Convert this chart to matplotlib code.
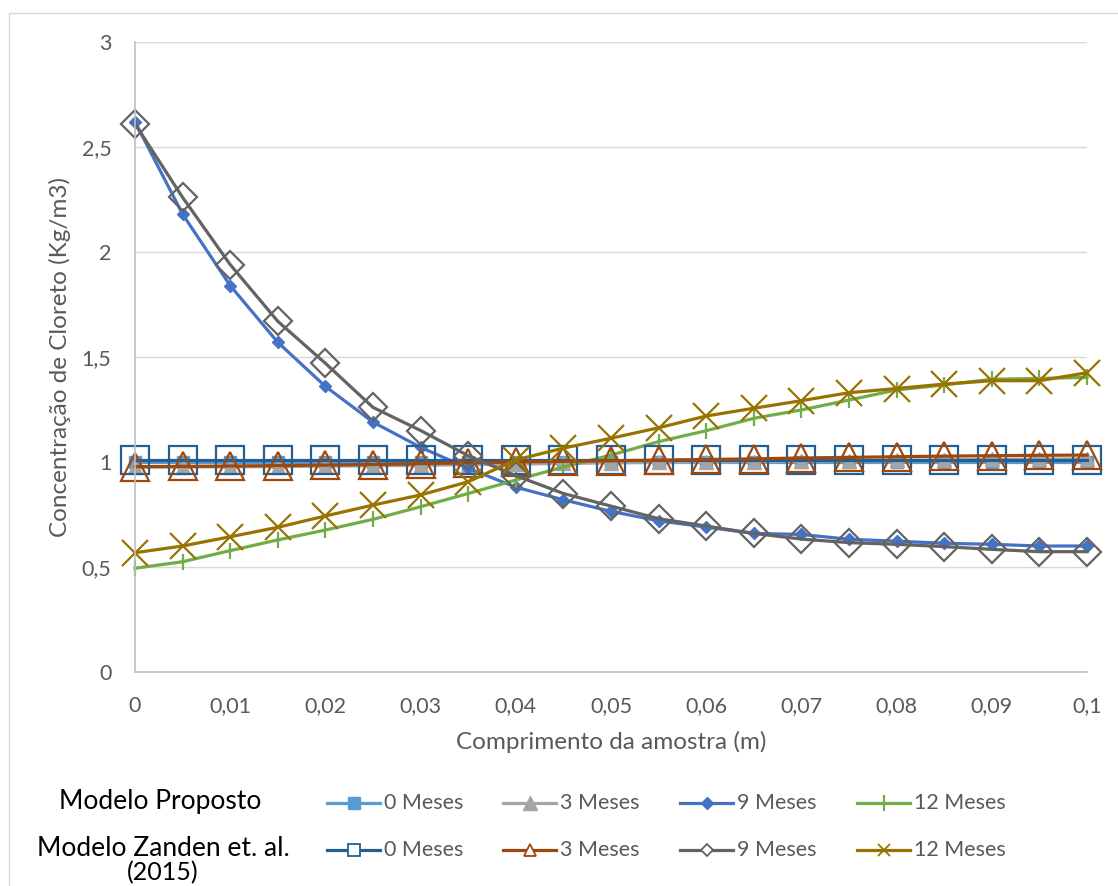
import matplotlib
matplotlib.use("Agg")
import matplotlib.pyplot as plt
from matplotlib.lines import Line2D
from matplotlib.patches import Rectangle

plt.rcParams['font.family'] = ['Lato', 'DejaVu Sans']

# comprimento da amostra (m)
x = [0, 0.005, 0.01, 0.015, 0.02, 0.025, 0.03, 0.035, 0.04, 0.045, 0.05,
     0.055, 0.06, 0.065, 0.07, 0.075, 0.08, 0.085, 0.09, 0.095, 0.1]

# Modelo Proposto
prop_0 = [1.0, 1.0, 1.0, 1.0, 1.0, 1.0, 1.0, 1.0, 1.0, 1.0, 1.0,
          1.0, 1.0, 1.0, 1.0, 1.0, 1.0, 1.0, 1.0, 1.0, 1.0]
prop_3 = [0.975, 0.976, 0.977, 0.978, 0.98, 0.982, 0.984, 0.987, 0.99, 0.993, 0.996,
          0.998, 1.0, 1.002, 1.004, 1.006, 1.008, 1.01, 1.012, 1.014, 1.015]
prop_9 = [2.62, 2.18, 1.84, 1.57, 1.36, 1.19, 1.07, 0.97, 0.88, 0.82, 0.765,
          0.72, 0.69, 0.66, 0.655, 0.632, 0.623, 0.613, 0.608, 0.60, 0.60]
prop_12 = [0.494, 0.525, 0.578, 0.629, 0.676, 0.727, 0.787, 0.85, 0.914, 0.976, 1.033,
           1.097, 1.149, 1.208, 1.248, 1.295, 1.343, 1.367, 1.394, 1.398, 1.403]

# Modelo Zanden et. al. (2015)
zan_0 = [1.01, 1.01, 1.01, 1.01, 1.01, 1.01, 1.01, 1.01, 1.01, 1.01, 1.01,
         1.01, 1.01, 1.01, 1.01, 1.01, 1.01, 1.01, 1.01, 1.01, 1.01]
zan_3 = [0.978, 0.979, 0.981, 0.983, 0.985, 0.988, 0.992, 0.996, 1.0, 1.003, 1.006,
         1.009, 1.012, 1.015, 1.019, 1.022, 1.025, 1.028, 1.03, 1.032, 1.033]
zan_9 = [2.61, 2.26, 1.94, 1.67, 1.47, 1.26, 1.15, 1.03, 0.935, 0.85, 0.79,
         0.73, 0.695, 0.66, 0.633, 0.616, 0.608, 0.597, 0.584, 0.573, 0.573]
zan_12 = [0.568, 0.60, 0.644, 0.689, 0.743, 0.795, 0.843, 0.906, 1.01, 1.066, 1.113,
          1.163, 1.219, 1.256, 1.292, 1.33, 1.35, 1.371, 1.387, 1.387, 1.425]

labels = ['0 Meses', '3 Meses', '9 Meses', '12 Meses']
xticks = [0, 0.01, 0.02, 0.03, 0.04, 0.05, 0.06, 0.07, 0.08, 0.09, 0.1]
xtick_labels = ['0', '0,01', '0,02', '0,03', '0,04', '0,05', '0,06', '0,07', '0,08', '0,09', '0,1']
yticks = [0, 0.5, 1, 1.5, 2, 2.5, 3]
ytick_labels = ['0', '0,5', '1', '1,5', '2', '2,5', '3']

W, H = 1118, 886
fig = plt.figure(figsize=(W / 100, H / 100), dpi=100)
ax = fig.add_axes([135 / W, 1 - 672 / H, (1087 - 135) / W, (672 - 42) / H])

lw = 2.3
prop_styles = [
    dict(color='#5B9BD5', marker='s', ms=8.5, mec='#5B9BD5'),
    dict(color='#A5A5A5', marker='^', ms=9.5, mec='#A5A5A5'),
    dict(color='#4472C4', marker='D', ms=6.5, mec='#4472C4'),
    dict(color='#70AD47', marker='|', ms=11, mew=1.6),
]
zan_styles = [
    dict(color='#255E91', marker='s', ms=20, mfc='none', mew=1.6),
    dict(color='#9E480E', marker='^', ms=20, mfc='none', mew=1.6),
    dict(color='#636363', marker='D', ms=14, mfc='none', mew=1.6),
    dict(color='#997300', marker='x', ms=19, mew=1.6),
]

for ys, st in zip([prop_0, prop_3, prop_9, prop_12], prop_styles):
    ax.plot(x, ys, lw=lw, clip_on=False, **st)
for ys, st in zip([zan_0, zan_3, zan_9, zan_12], zan_styles):
    ax.plot(x, ys, lw=lw, clip_on=False, **st)

ax.set_xlim(0, 0.1)
ax.set_ylim(0, 3)
ax.set_xticks(xticks)
ax.set_xticklabels(xtick_labels)
ax.set_yticks(yticks)
ax.set_yticklabels(ytick_labels)
ax.tick_params(length=0, labelsize=15.5, labelcolor='#595959')
ax.tick_params(axis='y', pad=17)
ax.tick_params(axis='x', pad=17)
ax.grid(axis='y', color='#D9D9D9', lw=1)
ax.set_axisbelow(True)
for s in ['top', 'right']:
    ax.spines[s].set_visible(False)
ax.spines['left'].set_color('#BFBFBF')
ax.spines['bottom'].set_color('#BFBFBF')
ax.spines['left'].set_linewidth(1.2)
ax.spines['bottom'].set_linewidth(1.2)

fig.text(611 / W, 1 - 742 / H, 'Comprimento da amostra (m)', ha='center', va='center',
         fontsize=17.5, color='#595959')
fig.text(60 / W, 1 - 357 / H, 'Concentração de Cloreto (Kg/m3)', ha='center', va='center',
         rotation=90, fontsize=17.5, color='#595959')

# borda do grafico
fig.add_artist(Rectangle((9 / W, -0.05), 1.2, 1.05 - 12.5 / H, transform=fig.transFigure,
                         fill=False, edgecolor='#D9D9D9', lw=1))

# legenda
fig.text(160 / W, 1 - 802 / H, 'Modelo Proposto', ha='center', va='center', fontsize=19, color='black')
fig.text(163 / W, 1 - 849 / H, 'Modelo Zanden et. al.', ha='center', va='center', fontsize=19, color='black')
fig.text(163 / W, 1 - 873 / H, '(2015)', ha='center', va='center', fontsize=18, color='black')

col_x = [327, 503, 680, 857]
leg_styles = [
    [dict(color='#5B9BD5', marker='s', ms=8.5), dict(color='#A5A5A5', marker='^', ms=9.5),
     dict(color='#4472C4', marker='D', ms=6.5), dict(color='#70AD47', marker='|', ms=11, mew=1.6)],
    [dict(color='#255E91', marker='s', ms=9, mfc='white', mew=1.3),
     dict(color='#9E480E', marker='^', ms=9, mfc='white', mew=1.3),
     dict(color='#636363', marker='D', ms=6, mfc='white', mew=1.3),
     dict(color='#997300', marker='x', ms=9, mew=1.3)],
]
for row, ypix in enumerate([803, 850]):
    yf = 1 - ypix / H
    for cx, lab, st in zip(col_x, labels, leg_styles[row]):
        fig.add_artist(Line2D([cx / W, (cx + 26.5) / W, (cx + 53) / W], [yf, yf, yf],
                              transform=fig.transFigure, lw=lw, markevery=[1], **st))
        fig.text((cx + 57) / W, yf, lab, ha='left', va='center', fontsize=15.5, color='#595959')

fig.savefig('out.png', dpi=100)
